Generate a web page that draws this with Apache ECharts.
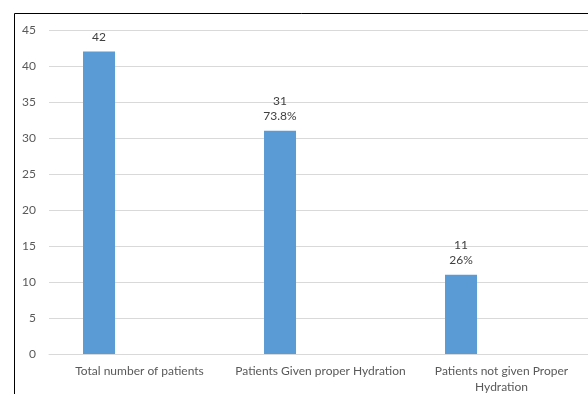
<!DOCTYPE html>
<html>
<head>
<meta charset="utf-8">
<script src="https://cdn.jsdelivr.net/npm/echarts@6/dist/echarts.min.js"></script>
<style>
  html, body { margin: 0; padding: 0; background: #fff; }
  #chart { width: 588px; height: 394px; }
</style>
</head>
<body>
<div id="chart"></div>
<script>
// Hydration status of patients
const categories = [
  'Total number of patients',
  'Patients Given proper Hydration',
  'Patients not given Proper\nHydration'
];
const patientCounts = [42, 31, 11];
const percentLabels = ['', '73.8%', '26%'];
const yTicks = { min: 0, max: 45, interval: 5 };

const font = 'Lato';
const chart = echarts.init(document.getElementById('chart'), null, { renderer: 'canvas' });

chart.setOption({
  animation: false,
  backgroundColor: '#ffffff',
  textStyle: { fontFamily: font },
  grid: {
    left: 49, top: 30, width: 543, height: 324,
    containLabel: false, outerBoundsMode: 'none'
  },
  graphic: [{
    type: 'rect',
    shape: { x: 14.5, y: 13.5, width: 620, height: 420 },
    style: { fill: 'none', stroke: '#000000', lineWidth: 1 },
    silent: true,
    z: 100
  }],
  xAxis: {
    type: 'category',
    data: categories,
    axisLine: { show: true, lineStyle: { color: '#d9d9d9', width: 1 } },
    axisTick: { show: false },
    axisLabel: {
      color: '#595959', fontSize: 12, fontFamily: font,
      margin: 9, lineHeight: 16, interval: 0
    }
  },
  yAxis: {
    type: 'value',
    min: yTicks.min, max: yTicks.max, interval: yTicks.interval,
    axisLine: { show: false },
    axisTick: { show: false },
    axisLabel: { color: '#595959', fontSize: 12, fontFamily: font, margin: 13 },
    splitLine: { lineStyle: { color: '#d9d9d9', width: 1 } }
  },
  series: [
    {
      type: 'bar',
      data: patientCounts,
      barWidth: 32,
      barGap: '153%',
      itemStyle: { color: '#5b9bd5' },
      label: {
        show: true,
        position: 'top',
        distance: 7,
        color: '#404040',
        fontSize: 12,
        fontFamily: font,
        lineHeight: 15,
        align: 'center',
        formatter: p => percentLabels[p.dataIndex]
          ? p.value + '\n' + percentLabels[p.dataIndex]
          : String(p.value)
      }
    },
    {
      // empty companion series keeps the bars offset within each category
      type: 'bar',
      data: categories.map(() => null),
      barWidth: 32,
      itemStyle: { color: 'transparent' }
    }
  ]
});
</script>
</body>
</html>
